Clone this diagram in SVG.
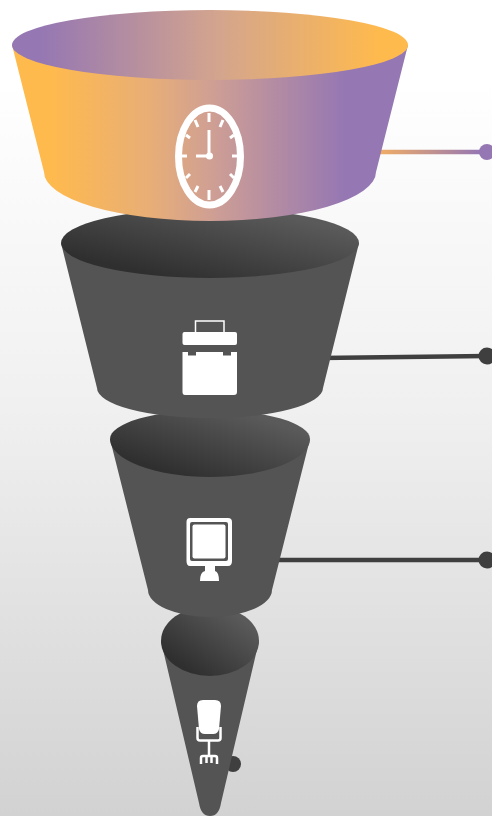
<svg xmlns="http://www.w3.org/2000/svg" width="492" height="816" viewBox="0 0 492 816">
<style>
.body{fill:#545454}
.ico{fill:#fff}
.tick{stroke:#fff;stroke-width:2.500;fill:none}
.dark{stroke:#3f3f3f;stroke-width:4.500;fill:none}
.dot{fill:#3f3f3f}
</style>
<defs>
<linearGradient id="bg" x1="0" y1="0" x2="0" y2="1"><stop offset="0.1" stop-color="#fff"/><stop offset="0.5" stop-color="#f0f0f0"/><stop offset="1" stop-color="#d2d2d2"/></linearGradient>
<linearGradient id="b1" gradientUnits="userSpaceOnUse" x1="50" y1="0" x2="345" y2="0"><stop offset="0" stop-color="#ffba4d"/><stop offset="0.34" stop-color="#e8ae77"/><stop offset="0.55" stop-color="#cf9f94"/><stop offset="1" stop-color="#9577b3"/></linearGradient>
<linearGradient id="t1" gradientUnits="userSpaceOnUse" x1="40" y1="0" x2="380" y2="0"><stop offset="0" stop-color="#9577b3"/><stop offset="0.53" stop-color="#d4a58d"/><stop offset="1" stop-color="#ffba4d"/></linearGradient>
<linearGradient id="top" x1="0.1" y1="0.9" x2="0.9" y2="0.1"><stop offset="0.1" stop-color="#2f2f2f"/><stop offset="0.9" stop-color="#5a5a5a"/></linearGradient>
<linearGradient id="l1" gradientUnits="userSpaceOnUse" x1="380" y1="0" x2="480" y2="0"><stop offset="0" stop-color="#f0ad66"/><stop offset="1" stop-color="#9577b3"/></linearGradient>
</defs>
<rect width="492" height="816" fill="url(#bg)"/>
<g id="connectors">
<path d="M370 152H487" stroke="url(#l1)" stroke-width="4.500" fill="none"/>
<circle cx="487" cy="152" r="8" fill="#9577b3"/>
<path class="dark" d="M320 358L487 356"/>
<circle class="dot" cx="487" cy="356" r="8.500"/>
<path class="dark" d="M270 560H487"/>
<circle class="dot" cx="487" cy="560" r="8.500"/>
<circle class="dot" cx="233" cy="764" r="8"/>
</g>
<g id="funnel-4">
<path class="body" d="M161 641L199 803Q201 816 210 816Q219 816 221 803L259 641Z"/>
<ellipse cx="210" cy="641" rx="49" ry="35" fill="url(#top)"/>
<path class="ico" d="M197 706Q197 700 203 700H215Q221 700 221 706L219 729Q218 734 213 734H205Q200 734 199 729Z"/>
<path class="tick" d="M197.500 727V738Q197.500 740.500 200 740.500H218Q220.500 740.500 220.500 738V727M209 740V756M201 764V758Q201 756 203 756H215Q217 756 217 758V764M206.500 757V763M211.500 757V763"/>
</g>
<g id="funnel-3">
<path class="body" d="M110 439L148 590A62 27 0 0 0 272 590L310 439Z"/>
<path fill="url(#top)" d="M110 439A100 29 0 0 1 310 439A100 38 0 0 1 110 439Z"/>
<path class="ico" fill-rule="evenodd" d="M190 518H228Q232 518 232 522V561Q232 566 228 566H190Q186.500 566 186.500 561V522Q186.500 518 190 518ZM192 522Q190 522 190 524V559Q190 561 192 561H226Q228 561 228 559V524Q228 522 226 522Z"/>
<rect class="ico" x="192.500" y="524.500" width="33" height="34" rx="2"/>
<path class="ico" d="M205 565H215V571Q219 572 219 581H200Q200 572 205 571Z"/>
</g>
<g id="funnel-2">
<path class="body" d="M61 243L97 388A113 30 0 0 0 323 388L359 243Z"/>
<ellipse cx="210" cy="243" rx="149" ry="35" fill="url(#top)"/>
<path d="M195.500 332V321H224V332" fill="none" stroke="#fff" stroke-width="1.500"/>
<rect class="ico" x="182.500" y="332" width="54.500" height="13" rx="2"/>
<path class="ico" d="M182.500 352H188V355.500H196V352H223V355.500H231V352H237V392Q237 395 234 395H185Q182.500 395 182.500 392Z"/>
</g>
<g id="funnel-1">
<path fill="url(#b1)" d="M12 45L44 172A166 49 0 0 0 376 172L408 45Z"/>
<ellipse cx="210" cy="45" rx="198" ry="35" fill="url(#t1)"/>
<ellipse cx="209.500" cy="156.500" rx="31" ry="48.500" fill="none" stroke="#fff" stroke-width="7"/>
<path class="tick" style="stroke-width:3" d="M209 113V122M209 190V200M181 156H187M232 156H238M195 120L198 127M223 120L220 127M186 135L190 138M234 135L230 138M186 178L190 174M234 178L230 174M195 192L198 186M223 192L220 186"/>
<path class="tick" style="stroke-width:3" d="M209 130V156M196 156H209"/>
<circle class="ico" cx="209.500" cy="156" r="3.500"/>
</g>
</svg>
